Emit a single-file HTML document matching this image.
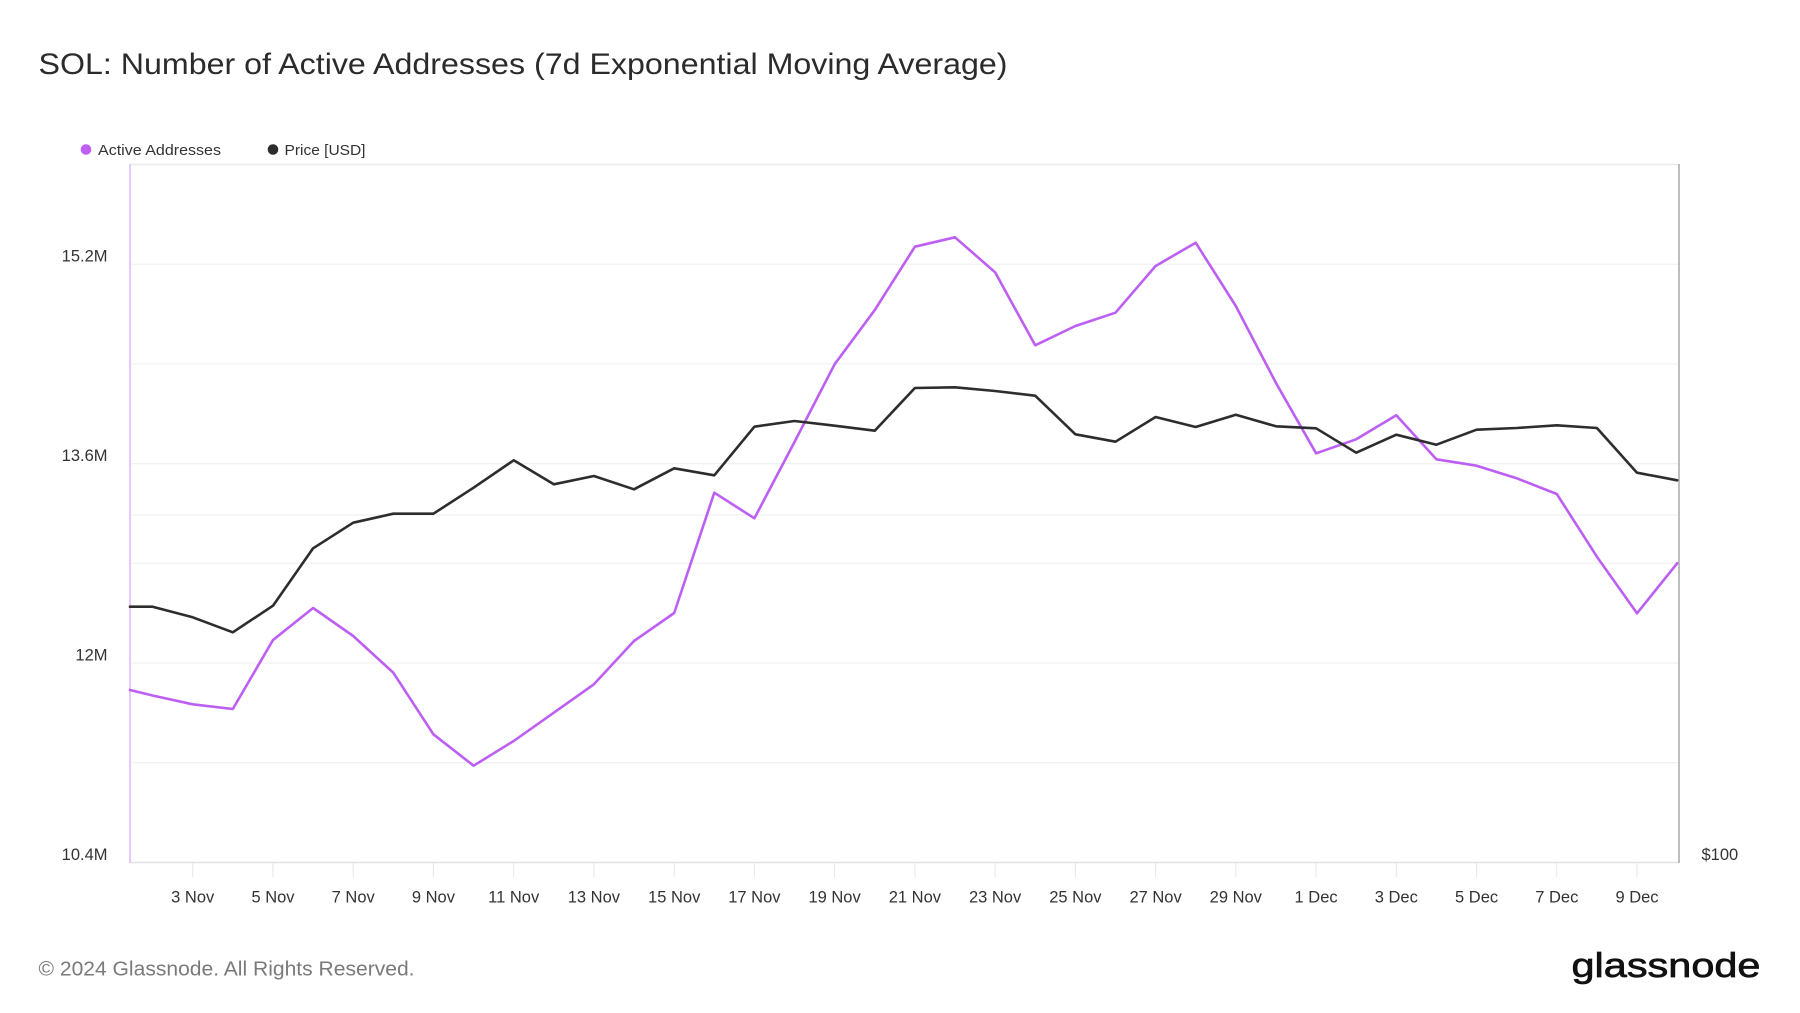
<!DOCTYPE html>
<html>
<head>
<meta charset="utf-8">
<style>
html,body{margin:0;padding:0;background:#fff;}
svg{display:block;}
text{font-family:"Liberation Sans",Arial,sans-serif;}
</style>
</head>
<body>
<svg width="1800" height="1013" viewBox="0 0 1800 1013" xmlns="http://www.w3.org/2000/svg">
<rect x="0" y="0" width="1800" height="1013" fill="#fff"/>
<!-- Title -->
<text x="38.5" y="74" font-size="29.5" fill="#2b2b2b" textLength="969" lengthAdjust="spacingAndGlyphs">SOL: Number of Active Addresses (7d Exponential Moving Average)</text>

<!-- Legend -->
<circle cx="86" cy="149.5" r="5.3" fill="#bd5ff2"/>
<text x="98" y="155" font-size="15" fill="#333" textLength="123" lengthAdjust="spacingAndGlyphs">Active Addresses</text>
<circle cx="273" cy="149.5" r="5.3" fill="#2d2d2d"/>
<text x="284.5" y="155" font-size="15" fill="#333" textLength="81" lengthAdjust="spacingAndGlyphs">Price [USD]</text>

<!-- Grid -->
<g stroke="#f0f0f0" stroke-width="1.2">
<line x1="130" x2="1679" y1="264.2" y2="264.2"/>
<line x1="130" x2="1679" y1="363.9" y2="363.9"/>
<line x1="130" x2="1679" y1="463.6" y2="463.6"/>
<line x1="130" x2="1679" y1="515" y2="515"/>
<line x1="130" x2="1679" y1="563.3" y2="563.3"/>
<line x1="130" x2="1679" y1="663" y2="663"/>
<line x1="130" x2="1679" y1="762.7" y2="762.7"/>
</g>
<!-- Frame -->
<line x1="130" x2="1679" y1="164.5" y2="164.5" stroke="#ebebeb" stroke-width="1.5"/>
<line x1="130" x2="1679" y1="862.5" y2="862.5" stroke="#e2e2e2" stroke-width="1.5"/>
<line x1="130" x2="130" y1="164" y2="863" stroke="#e8c9fb" stroke-width="2"/>
<line x1="1679" x2="1679" y1="164" y2="863" stroke="#a9a9a9" stroke-width="1.5"/>

<!-- X ticks -->
<g stroke="#e6e6e6" stroke-width="1">
<line x1="192.7" x2="192.7" y1="863" y2="877"/>
<line x1="273.0" x2="273.0" y1="863" y2="877"/>
<line x1="353.2" x2="353.2" y1="863" y2="877"/>
<line x1="433.4" x2="433.4" y1="863" y2="877"/>
<line x1="513.7" x2="513.7" y1="863" y2="877"/>
<line x1="593.9" x2="593.9" y1="863" y2="877"/>
<line x1="674.2" x2="674.2" y1="863" y2="877"/>
<line x1="754.4" x2="754.4" y1="863" y2="877"/>
<line x1="834.6" x2="834.6" y1="863" y2="877"/>
<line x1="914.9" x2="914.9" y1="863" y2="877"/>
<line x1="995.1" x2="995.1" y1="863" y2="877"/>
<line x1="1075.4" x2="1075.4" y1="863" y2="877"/>
<line x1="1155.6" x2="1155.6" y1="863" y2="877"/>
<line x1="1235.8" x2="1235.8" y1="863" y2="877"/>
<line x1="1316.1" x2="1316.1" y1="863" y2="877"/>
<line x1="1396.3" x2="1396.3" y1="863" y2="877"/>
<line x1="1476.6" x2="1476.6" y1="863" y2="877"/>
<line x1="1556.8" x2="1556.8" y1="863" y2="877"/>
<line x1="1637.0" x2="1637.0" y1="863" y2="877"/>
</g>

<!-- X labels -->
<g font-size="16.5" fill="#333" text-anchor="middle">
<text x="192.7" y="902.5">3 Nov</text>
<text x="273.0" y="902.5">5 Nov</text>
<text x="353.2" y="902.5">7 Nov</text>
<text x="433.4" y="902.5">9 Nov</text>
<text x="513.7" y="902.5">11 Nov</text>
<text x="593.9" y="902.5">13 Nov</text>
<text x="674.2" y="902.5">15 Nov</text>
<text x="754.4" y="902.5">17 Nov</text>
<text x="834.6" y="902.5">19 Nov</text>
<text x="914.9" y="902.5">21 Nov</text>
<text x="995.1" y="902.5">23 Nov</text>
<text x="1075.4" y="902.5">25 Nov</text>
<text x="1155.6" y="902.5">27 Nov</text>
<text x="1235.8" y="902.5">29 Nov</text>
<text x="1316.1" y="902.5">1 Dec</text>
<text x="1396.3" y="902.5">3 Dec</text>
<text x="1476.6" y="902.5">5 Dec</text>
<text x="1556.8" y="902.5">7 Dec</text>
<text x="1637.0" y="902.5">9 Dec</text>
</g>

<!-- Y labels -->
<g font-size="16.5" fill="#333" text-anchor="end">
<text x="107.5" y="261.5">15.2M</text>
<text x="107.5" y="461">13.6M</text>
<text x="107.5" y="660.5">12M</text>
<text x="107.5" y="860">10.4M</text>
</g>
<text x="1701.5" y="860" font-size="16.5" fill="#333">$100</text>

<!-- Active addresses -->
<polyline fill="none" stroke="#bd5ff2" stroke-width="2.6" stroke-linejoin="round" stroke-linecap="round" points="
130,690 152.6,695.5 192.7,704.3 232.8,709 273.0,640 313.1,608 353.2,636 393.3,672.7 433.4,734.3 473.6,765.7 513.7,741 553.8,712.7 593.9,684.3 634.0,641 674.2,613 714.3,492.7 754.4,518.3 794.5,442 834.6,364.3 874.8,310 914.9,246.7 955.0,237.3 995.1,272.3 1035.2,345.3 1075.4,326 1115.5,312.7 1155.6,266 1195.7,242.7 1235.8,306 1276.0,383 1316.1,453.3 1356.2,439.3 1396.3,415.3 1436.4,459.3 1476.6,465.7 1516.7,478.3 1556.8,494 1596.9,556.7 1637.0,613.3 1677.2,563.3"/>

<!-- Price -->
<polyline fill="none" stroke="#2d2d2d" stroke-width="2.6" stroke-linejoin="round" stroke-linecap="round" points="
130,606.7 152.6,606.7 192.7,617.3 232.8,632.3 273.0,605.7 313.1,548.3 353.2,522.7 393.3,513.7 433.4,513.7 473.6,487.7 513.7,460.3 553.8,484.3 593.9,476 634.0,489.3 674.2,468.3 714.3,475.3 754.4,426.7 794.5,421 834.6,425.7 874.8,430.7 914.9,388 955.0,387.3 995.1,391 1035.2,395.7 1075.4,434.3 1115.5,441.7 1155.6,417 1195.7,427 1235.8,414.7 1276.0,426.3 1316.1,428.3 1356.2,452.7 1396.3,434.7 1436.4,444.7 1476.6,429.7 1516.7,428 1556.8,425.3 1596.9,428 1637.0,472.7 1677.2,480.3"/>

<!-- Footer -->
<text x="38.5" y="975.5" font-size="20.5" fill="#7a7a7a" textLength="376" lengthAdjust="spacingAndGlyphs">© 2024 Glassnode. All Rights Reserved.</text>
<text x="1571.5" y="977" font-size="34" fill="#111" stroke="#111" stroke-width="0.7" textLength="189" lengthAdjust="spacingAndGlyphs">glassnode</text>
</svg>
</body>
</html>
